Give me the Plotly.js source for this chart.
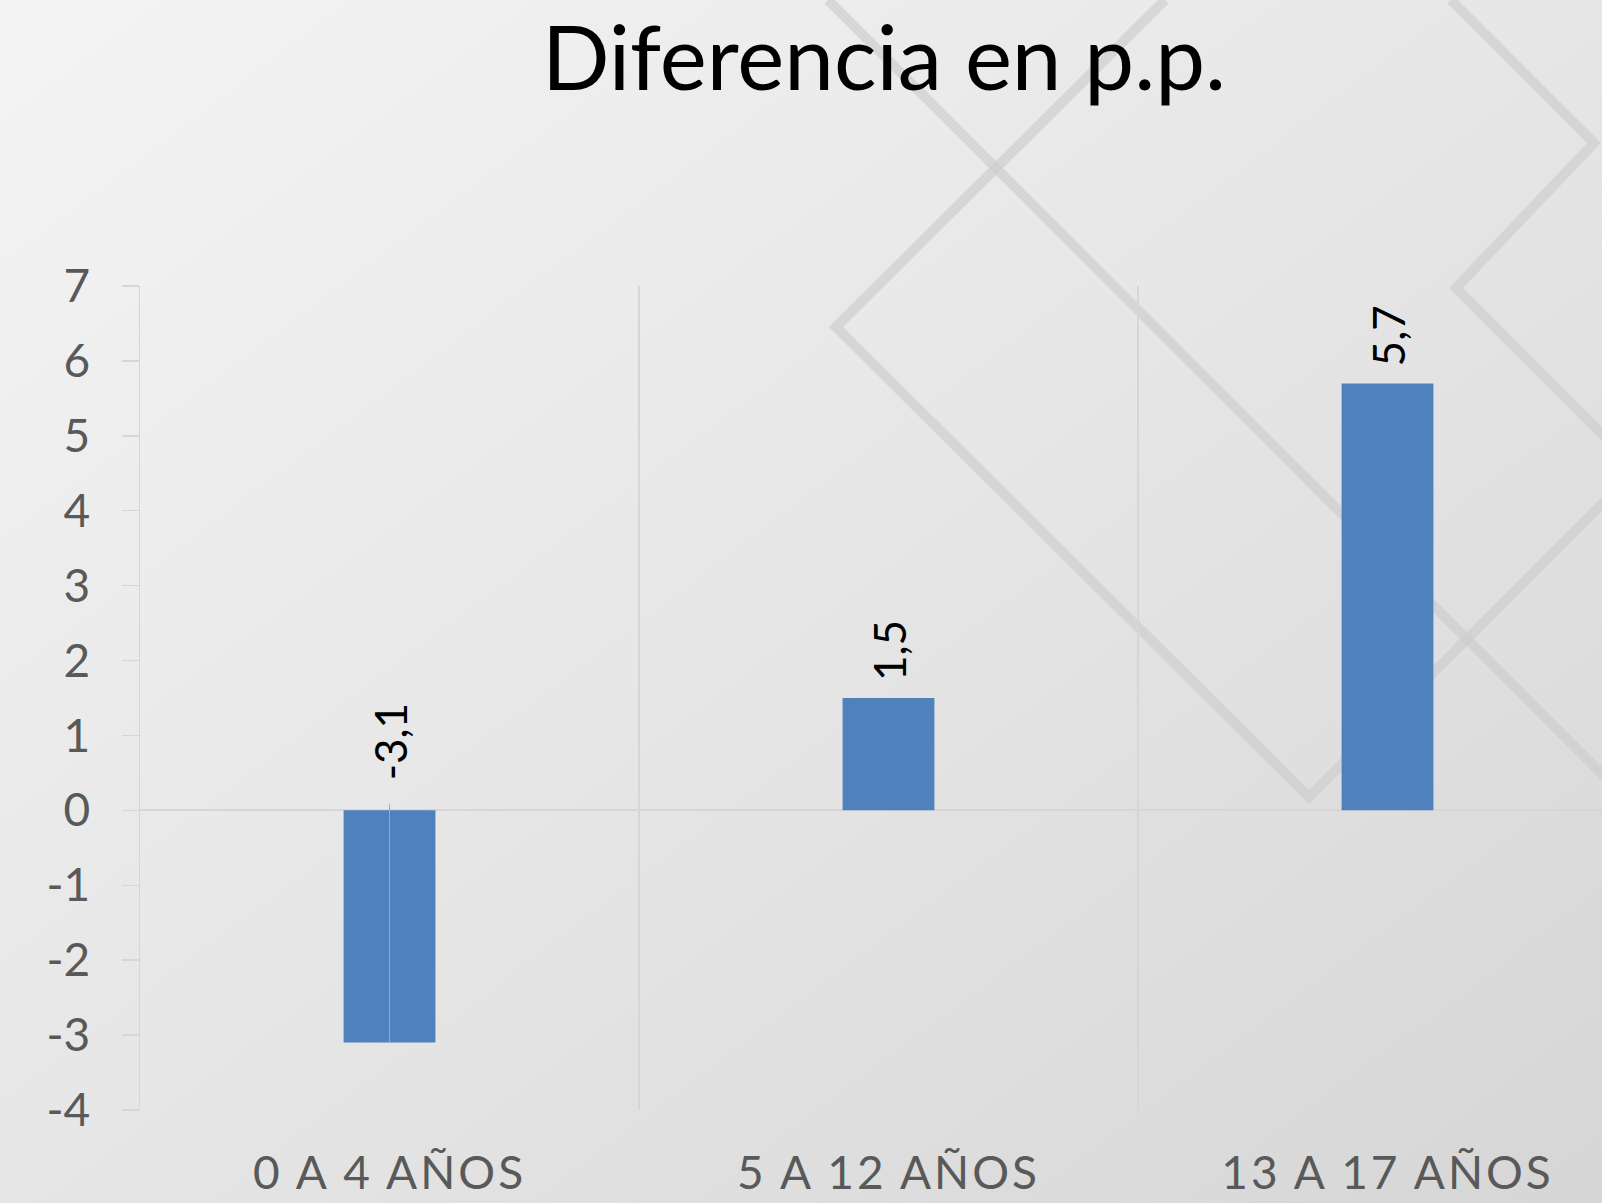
<!DOCTYPE html>
<html>
<head>
<meta charset="utf-8">
<script src="https://cdn.plot.ly/plotly-3.0.1.min.js"></script>
<style>
  html, body { margin: 0; padding: 0; width: 1602px; height: 1203px; overflow: hidden; }
  #bg { position: absolute; left: 0; top: 0; }
  #chart { position: absolute; left: 0; top: 0; width: 1640px; height: 1203px; }
  #chart .xtick text { letter-spacing: 3px; }
</style>
</head>
<body>
<svg id="bg" width="1602" height="1203" xmlns="http://www.w3.org/2000/svg">
  <defs>
    <linearGradient id="g" x1="0" y1="0" x2="1" y2="1">
      <stop offset="0" stop-color="#f4f4f4"/>
      <stop offset="0.5" stop-color="#e6e6e6"/>
      <stop offset="1" stop-color="#d6d6d6"/>
    </linearGradient>
  </defs>
  <rect x="0" y="0" width="1602" height="1203" fill="url(#g)"/>
  <g fill="none" stroke="#cccccc" stroke-width="10" stroke-opacity="0.65">
    <polyline points="828,0 1620,792"/>
    <polyline points="1165,0 836,327 1309,797 1620,486"/>
    <polyline points="1451,0 1594,143 1456,288 1620,452"/>
  </g>
</svg>
<div id="chart"></div>
<script>
const categories = ["0 A 4 AÑOS", "5 A 12 AÑOS", "13 A 17 AÑOS"];
const values = [-3.1, 1.5, 5.7];
const valueLabels = ["-3,1", "1,5", "5,7"];
const yTicks = [-4, -3, -2, -1, 0, 1, 2, 3, 4, 5, 6, 7];

const trace = {
  type: "bar",
  x: categories,
  y: values,
  marker: { color: "#4f81bd" },
  hoverinfo: "none"
};

const annotations = categories.map((c, i) => ({
  x: c, y: Math.max(values[i], 0), xref: "x", yref: "y",
  text: valueLabels[i], showarrow: false, textangle: -90,
  xanchor: "center", yanchor: "bottom",
  yshift: values[i] < 0 ? 28 : 15,
  font: { family: "Lato, sans-serif", size: 44, color: "#000000" }
}));

const layout = {
  width: 1640, height: 1203,
  margin: { l: 140, r: 3, t: 286, b: 93 },
  paper_bgcolor: "rgba(0,0,0,0)",
  plot_bgcolor: "rgba(0,0,0,0)",
  showlegend: false,
  bargap: 0.816,
  title: {
    text: "Diferencia en p.p.",
    font: { family: "Lato, sans-serif", size: 89, color: "#000000" },
    x: 0.497, xref: "paper", xanchor: "center",
    y: 0.951, yref: "container", yanchor: "middle"
  },
  xaxis: {
    type: "category",
    tickson: "boundaries",
    showgrid: true, gridcolor: "#d6d6d6", gridwidth: 1.5,
    ticks: "", showline: false, zeroline: false,
    tickfont: { family: "Lato, sans-serif", size: 46, color: "#595959" },
    ticklabelstandoff: 32
  },
  yaxis: {
    range: [-4, 7],
    tickvals: yTicks,
    ticktext: yTicks.map(String),
    showgrid: false,
    zeroline: true, zerolinecolor: "#d6d6d6", zerolinewidth: 2,
    showline: true, linecolor: "#d6d6d6", linewidth: 1.5,
    ticks: "outside", ticklen: 17, tickcolor: "#d6d6d6", tickwidth: 1.5,
    tickfont: { family: "Lato, sans-serif", size: 46, color: "#595959" },
    ticklabelstandoff: 22
  },
  annotations: annotations,
  shapes: [{
    type: "line", xref: "x", yref: "y", layer: "above",
    x0: categories[0], x1: categories[0], y0: values[0], y1: 0.08,
    line: { color: "#a6a6a6", width: 1 }
  }]
};

Plotly.newPlot("chart", [trace], layout, { displayModeBar: false, staticPlot: true });
</script>
</body>
</html>
